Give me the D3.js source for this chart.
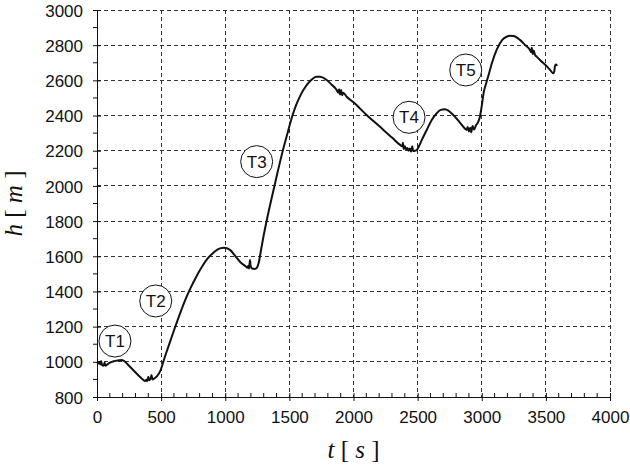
<!DOCTYPE html>
<html>
<head>
<meta charset="utf-8">
<script src="https://cdn.jsdelivr.net/npm/d3@7"></script>
<style>
  body { margin: 0; background: #fff; }
  .tick text { font-family: 'Liberation Sans', Arial, sans-serif; font-size: 17px; fill: #111; }
  .grid line { stroke: #333; stroke-width: 1; stroke-dasharray: 4 3; shape-rendering: crispEdges; }
  .domain { stroke: #111; shape-rendering: crispEdges; }
</style>
</head>
<body>
<div id="target"></div>
<script>
const width = 630;
const height = 467;
const margin = { top: 10, right: 20, bottom: 70, left: 97 };

// altitude trace
const tValues = [0, 10, 18, 25, 32, 40, 50, 60, 65, 80, 100, 130, 160, 190, 210, 240, 280, 320, 360, 374, 385, 392, 400, 408, 418, 425, 432, 445, 470, 491,
  530, 570, 608, 650, 690, 730, 770, 810, 860, 910, 959, 990, 1037, 1080, 1120, 1160, 1170, 1178, 1185, 1193, 1198, 1210, 1230, 1245,
  1260, 1280, 1300, 1340, 1390, 1440, 1480, 1520, 1550, 1580, 1609, 1660, 1713, 1740, 1791, 1830, 1869, 1880, 1888, 1895, 1903, 1912, 1920, 1947,
  2000, 2100, 2200, 2300, 2363, 2380, 2385, 2392, 2400, 2410, 2420, 2430, 2440, 2450, 2458, 2465, 2480, 2493, 2510, 2532, 2571, 2610, 2649, 2680,
  2713, 2740, 2778, 2830, 2870, 2882, 2890, 2900, 2910, 2918, 2928, 2940, 2955, 2970, 2986, 3000, 3015, 3035, 3051, 3080, 3116, 3160, 3194, 3220, 3246,
  3298, 3340, 3376, 3385, 3390, 3398, 3405, 3415, 3428, 3460, 3500, 3530, 3558, 3565, 3572, 3580, 3587];
const hValues = [1000, 990, 1000, 985, 1005, 982, 978, 995, 978, 985, 995, 1003, 1008, 1010, 1005, 985, 955, 925, 898, 891, 898, 890, 915, 895, 905, 925, 900, 905, 920, 944,
  1030, 1115, 1195, 1280, 1355, 1420, 1478, 1530, 1585, 1622, 1645, 1648, 1636, 1600, 1565, 1542, 1535, 1545, 1530, 1579, 1545, 1530, 1528, 1533,
  1560, 1640, 1720, 1860, 2020, 2175, 2285, 2390, 2455, 2505, 2545, 2595, 2621, 2620, 2602, 2575, 2545, 2530, 2550, 2520, 2545, 2515, 2530, 2507,
  2475, 2405, 2340, 2275, 2233, 2225, 2245, 2210, 2225, 2208, 2215, 2200, 2212, 2195, 2225, 2198, 2200, 2204, 2225, 2260, 2318, 2375, 2413, 2432,
  2436, 2428, 2403, 2360, 2325, 2318, 2335, 2310, 2330, 2305, 2340, 2320, 2345, 2360, 2395, 2455, 2530, 2585, 2625, 2700, 2773, 2830, 2848, 2853, 2852,
  2830, 2800, 2773, 2760, 2785, 2750, 2770, 2745, 2735, 2712, 2685, 2662, 2640, 2650, 2685, 2690, 2682];

// phase labels
const phaseNames = ['T1', 'T2', 'T3', 'T4', 'T5'];
const phaseT = [140, 458, 1245, 2433, 2875];
const phaseH = [1118, 1346, 2138, 2390, 2659];

const xTicks = [0, 500, 1000, 1500, 2000, 2500, 3000, 3500, 4000];
const yTicks = [800, 1000, 1200, 1400, 1600, 1800, 2000, 2200, 2400, 2600, 2800, 3000];

const innerW = width - margin.left - margin.right;
const innerH = height - margin.top - margin.bottom;

const svg = d3.select('#target').append('svg').attr('width', width).attr('height', height);
const g = svg.append('g').attr('transform', `translate(${margin.left},${margin.top})`);

const x = d3.scaleLinear().domain([0, 4000]).range([0, innerW]);
const y = d3.scaleLinear().domain([800, 3000]).range([innerH, 0]);

// dashed grid
g.append('g')
  .attr('class', 'grid')
  .selectAll('line')
  .data(xTicks.slice(1))
  .enter()
  .append('line')
  .attr('x1', (d) => x(d))
  .attr('x2', (d) => x(d))
  .attr('y1', 0)
  .attr('y2', innerH);

g.append('g')
  .attr('class', 'grid')
  .selectAll('line')
  .data(yTicks.slice(1))
  .enter()
  .append('line')
  .attr('x1', 0)
  .attr('x2', innerW)
  .attr('y1', (d) => y(d))
  .attr('y2', (d) => y(d));

// axes
const xAxis = g.append('g')
  .attr('transform', `translate(0,${innerH})`)
  .call(d3.axisBottom(x).tickValues(xTicks).tickSize(4).tickPadding(10).tickFormat(d3.format('d')));
xAxis.selectAll('.tick line').attr('y1', -4).attr('stroke', '#111');

const yAxis = g.append('g')
  .call(d3.axisLeft(y).tickValues(yTicks).tickSize(4).tickPadding(10).tickFormat(d3.format('d')));
yAxis.selectAll('.tick line').attr('x1', 4).attr('stroke', '#111');
yAxis.selectAll('.tick text').attr('dy', '0.36em');

// minor ticks every 100
const xMinor = d3.range(100, 4000, 100).filter((d) => d % 500 !== 0);
g.append('g')
  .selectAll('line')
  .data(xMinor)
  .enter()
  .append('line')
  .attr('x1', (d) => x(d))
  .attr('x2', (d) => x(d))
  .attr('y1', innerH)
  .attr('y2', innerH - 4)
  .attr('stroke', '#111');

const yMinor = d3.range(900, 3000, 200);
g.append('g')
  .selectAll('line')
  .data(yMinor)
  .enter()
  .append('line')
  .attr('x1', -4)
  .attr('x2', 0)
  .attr('y1', (d) => y(d))
  .attr('y2', (d) => y(d))
  .attr('stroke', '#111');

// altitude line
const data = tValues.map((t, i) => ({ t: t, h: hValues[i] }));
const line = d3.line()
  .x((d) => x(d.t))
  .y((d) => y(d.h))
  .curve(d3.curveMonotoneX);

g.append('path')
  .datum(data)
  .attr('fill', 'none')
  .attr('stroke', '#111')
  .attr('stroke-width', 2)
  .attr('stroke-linejoin', 'round')
  .attr('d', line);

// phase markers
const phases = g.selectAll('.phase')
  .data(phaseNames)
  .enter()
  .append('g')
  .attr('class', 'phase')
  .attr('transform', (d, i) => `translate(${x(phaseT[i])},${y(phaseH[i])})`);

phases.append('circle')
  .attr('r', 16)
  .attr('fill', '#fff')
  .attr('stroke', '#111')
  .attr('stroke-width', 1);

phases.append('text')
  .attr('text-anchor', 'middle')
  .attr('dy', '0.36em')
  .style('font-family', "'Liberation Sans', Arial, sans-serif")
  .style('font-size', '17px')
  .attr('fill', '#111')
  .text((d) => d);

// axis titles
const xTitle = svg.append('text')
  .attr('x', margin.left + innerW / 2)
  .attr('y', 458)
  .attr('text-anchor', 'middle')
  .style('font-family', "'Liberation Serif', 'DejaVu Serif', serif")
  .style('font-size', '25px')
  .attr('fill', '#111');
xTitle.append('tspan').style('font-style', 'italic').text('t');
xTitle.append('tspan').text(' [ ');
xTitle.append('tspan').style('font-style', 'italic').text('s');
xTitle.append('tspan').text(' ]');

const yTitle = svg.append('text')
  .attr('transform', `translate(22,${margin.top + innerH / 2}) rotate(-90)`)
  .attr('text-anchor', 'middle')
  .style('font-family', "'Liberation Serif', 'DejaVu Serif', serif")
  .style('font-size', '25px')
  .attr('fill', '#111');
yTitle.append('tspan').style('font-style', 'italic').text('h');
yTitle.append('tspan').text(' [ ');
yTitle.append('tspan').style('font-style', 'italic').text('m');
yTitle.append('tspan').text(' ]');
</script>
</body>
</html>
